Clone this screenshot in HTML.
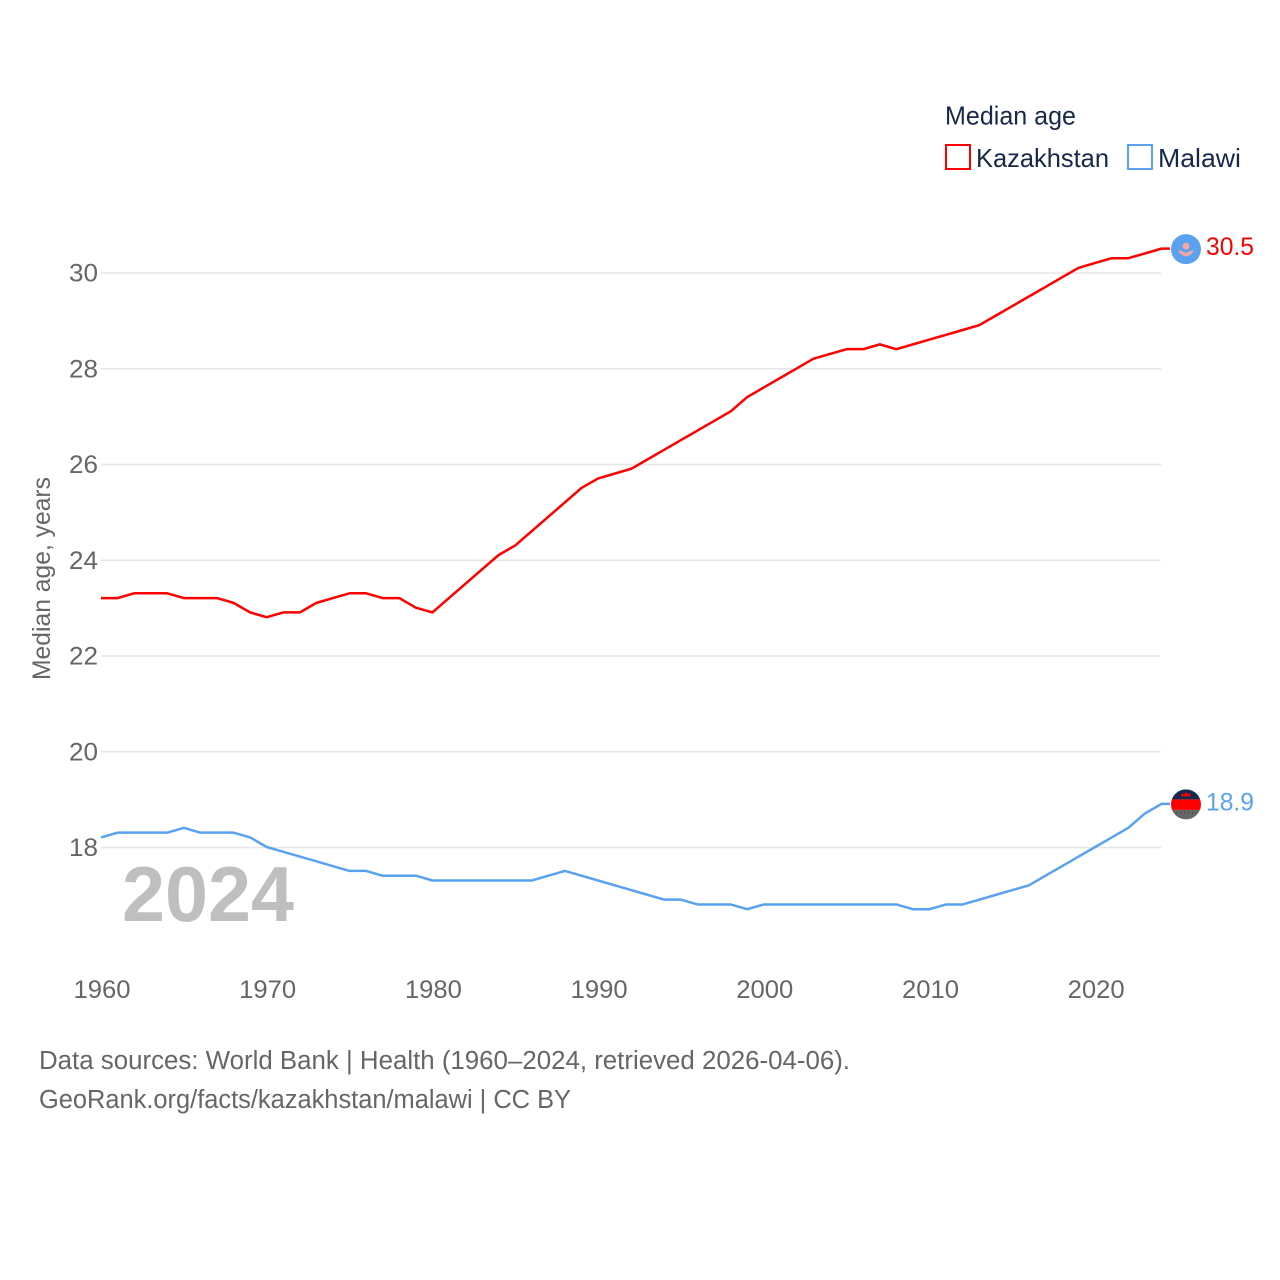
<!DOCTYPE html>
<html lang="en">
<head>
<meta charset="utf-8">
<title>Median age: Kazakhstan vs Malawi</title>
<style>
html,body{margin:0;padding:0;background:#fff}
svg{display:block}
text{font-family:"Liberation Sans",sans-serif}
</style>
</head>
<body>
<svg id="chart" width="1280" height="1280" viewBox="0 0 1280 1280" xmlns="http://www.w3.org/2000/svg">
  <rect width="1280" height="1280" fill="#fff"/>
  <g id="grid"></g>
  <g id="yticks"></g>
  <g id="xticks"></g>
  <text transform="translate(50,680) rotate(-90)" font-size="25" fill="#666" textLength="203" lengthAdjust="spacingAndGlyphs">Median age, years</text>
  <text x="122" y="921" font-size="78" font-weight="bold" fill="#bfbfbf" textLength="172" lengthAdjust="spacingAndGlyphs">2024</text>
  <polyline id="line-kaz" fill="none" stroke="#ff0000" stroke-width="2.5" stroke-linejoin="round"/>
  <polyline id="line-mwi" fill="none" stroke="#5aa2ef" stroke-width="2.5" stroke-linejoin="round"/>
  <g id="end-kaz">
    <circle cx="1186" cy="248" r="15" fill="#5aa2ef"/>
    <circle cx="1186" cy="245" r="3.5" fill="#f7a6a0"/>
    <path d="M1178 249 L1182 250 Q1186 253 1190 250 L1194 249 Q1191 255 1186 255 Q1181 255 1178 249Z" fill="#f7a6a0"/>
  </g>
  <g id="end-mwi">
    <clipPath id="mwi-clip"><circle cx="1186" cy="804" r="15"/></clipPath>
    <g clip-path="url(#mwi-clip)">
      <rect x="1171" y="789" width="30" height="10" fill="#16294a"/>
      <rect x="1171" y="799" width="30" height="10.5" fill="#ff0000"/>
      <rect x="1171" y="809.5" width="30" height="10" fill="#666"/>
      <path d="M1176 812.5h20" stroke="#333" stroke-width="1" stroke-dasharray="1 3" fill="none"/>
    </g>
    <path d="M1181 796 L1182 793 L1184 794 L1186 791.5 L1188 794 L1190 793 L1191 796Z" fill="#ff0000"/>
  </g>
  <g id="labels"></g>
  <text x="945" y="124.5" font-size="26" fill="#16294a" textLength="131" lengthAdjust="spacingAndGlyphs">Median age</text>
  <rect x="946" y="145" width="24" height="24" fill="none" stroke="#ff0000" stroke-width="2"/>
  <text x="976" y="167" font-size="26" fill="#16294a" textLength="133" lengthAdjust="spacingAndGlyphs">Kazakhstan</text>
  <rect x="1128" y="145" width="24" height="24" fill="none" stroke="#5aa2ef" stroke-width="2"/>
  <text x="1158" y="167" font-size="26" fill="#16294a" textLength="83" lengthAdjust="spacingAndGlyphs">Malawi</text>
  <text x="39" y="1069" font-size="25.5" fill="#666" textLength="811" lengthAdjust="spacingAndGlyphs">Data sources: World Bank | Health (1960–2024, retrieved 2026-04-06).</text>
  <a><text x="39" y="1108" font-size="25.5" fill="#666" textLength="532" lengthAdjust="spacingAndGlyphs">GeoRank.org/facts/kazakhstan/malawi | CC BY</text></a>
</svg>
<script>
const years = [1960,1961,1962,1963,1964,1965,1966,1967,1968,1969,1970,1971,1972,1973,1974,1975,1976,1977,1978,1979,1980,1981,1982,1983,1984,1985,1986,1987,1988,1989,1990,1991,1992,1993,1994,1995,1996,1997,1998,1999,2000,2001,2002,2003,2004,2005,2006,2007,2008,2009,2010,2011,2012,2013,2014,2015,2016,2017,2018,2019,2020,2021,2022,2023,2024];
const kazakhstan = [23.2,23.2,23.3,23.3,23.3,23.2,23.2,23.2,23.1,22.9,22.8,22.9,22.9,23.1,23.2,23.3,23.3,23.2,23.2,23.0,22.9,23.2,23.5,23.8,24.1,24.3,24.6,24.9,25.2,25.5,25.7,25.8,25.9,26.1,26.3,26.5,26.7,26.9,27.1,27.4,27.6,27.8,28.0,28.2,28.3,28.4,28.4,28.5,28.4,28.5,28.6,28.7,28.8,28.9,29.1,29.3,29.5,29.7,29.9,30.1,30.2,30.3,30.3,30.4,30.5];
const malawi = [18.2,18.3,18.3,18.3,18.3,18.4,18.3,18.3,18.3,18.2,18.0,17.9,17.8,17.7,17.6,17.5,17.5,17.4,17.4,17.4,17.3,17.3,17.3,17.3,17.3,17.3,17.3,17.4,17.5,17.4,17.3,17.2,17.1,17.0,16.9,16.9,16.8,16.8,16.8,16.7,16.8,16.8,16.8,16.8,16.8,16.8,16.8,16.8,16.8,16.7,16.7,16.8,16.8,16.9,17.0,17.1,17.2,17.4,17.6,17.8,18.0,18.2,18.4,18.7,18.9];
const yTickValues = [18,20,22,24,26,28,30];
const xTickValues = [1960,1970,1980,1990,2000,2010,2020];

const SVG_NS = 'http://www.w3.org/2000/svg';
const xScale = function (year) { return 101 + (year - 1960) * 16.57; };
const yScale = function (value) { return 847.5 - (value - 18) * 47.87; };
const lineOffset = -0.5;
const tailX = 1170;

function makeSvg(tag) { return document.createElementNS(SVG_NS, tag); }

const gridGroup = document.getElementById('grid');
const yGroup = document.getElementById('yticks');
yTickValues.forEach(function (v) {
  const line = makeSvg('line');
  
  
  line.setAttribute('x1', 101);
  line.setAttribute('x2', 1161);
  line.setAttribute('y1', yScale(v));
  line.setAttribute('y2', yScale(v));
  line.setAttribute('stroke', '#e6e6e6');
  line.setAttribute('stroke-width', '1.5');
  gridGroup.appendChild(line);
  const label = makeSvg('text');
  
  
  label.setAttribute('x', 98);
  label.setAttribute('y', yScale(v) + 8.5);
  label.setAttribute('text-anchor', 'end');
  label.setAttribute('font-size', '25');
  label.setAttribute('fill', '#666');
  label.setAttribute('textLength', '29');
  label.setAttribute('lengthAdjust', 'spacingAndGlyphs');
  label.textContent = String(v);
  yGroup.appendChild(label);
});

const xGroup = document.getElementById('xticks');
xTickValues.forEach(function (y) {
  const label = makeSvg('text');
  
  
  label.setAttribute('x', xScale(y) - 27.5);
  label.setAttribute('y', 998);
  label.setAttribute('font-size', '25');
  label.setAttribute('fill', '#666');
  label.setAttribute('textLength', '57');
  label.setAttribute('lengthAdjust', 'spacingAndGlyphs');
  label.textContent = String(y);
  xGroup.appendChild(label);
});

function drawLine(id, values) {
  const pts = values.map(function (v, i) { return xScale(years[i]) + ',' + (yScale(v) + lineOffset); });
  pts.push(tailX + ',' + (yScale(values[values.length - 1]) + lineOffset));
  document.getElementById(id).setAttribute('points', pts.join(' '));
}
drawLine('line-kaz', kazakhstan);
drawLine('line-mwi', malawi);

function placeMarker(id, baseY, value) {
  document.getElementById(id).setAttribute('transform', 'translate(0,' + (yScale(value) - baseY) + ')');
}
placeMarker('end-kaz', 248, kazakhstan[kazakhstan.length - 1]);
placeMarker('end-mwi', 804, malawi[malawi.length - 1]);

const labelGroup = document.getElementById('labels');
function endLabel(name, values, color) {
  const v = values[values.length - 1];
  const t = makeSvg('text');
  
  
  t.setAttribute('x', 1206);
  t.setAttribute('y', yScale(v) + 6);
  t.setAttribute('font-size', '25');
  t.setAttribute('fill', color);
  t.setAttribute('textLength', '48');
  t.setAttribute('lengthAdjust', 'spacingAndGlyphs');
  t.textContent = v.toFixed(1);
  labelGroup.appendChild(t);
}
endLabel('kazakhstan-end-value', kazakhstan, '#ff0000');
endLabel('malawi-end-value', malawi, '#5aa2ef');
</script>
</body>
</html>
